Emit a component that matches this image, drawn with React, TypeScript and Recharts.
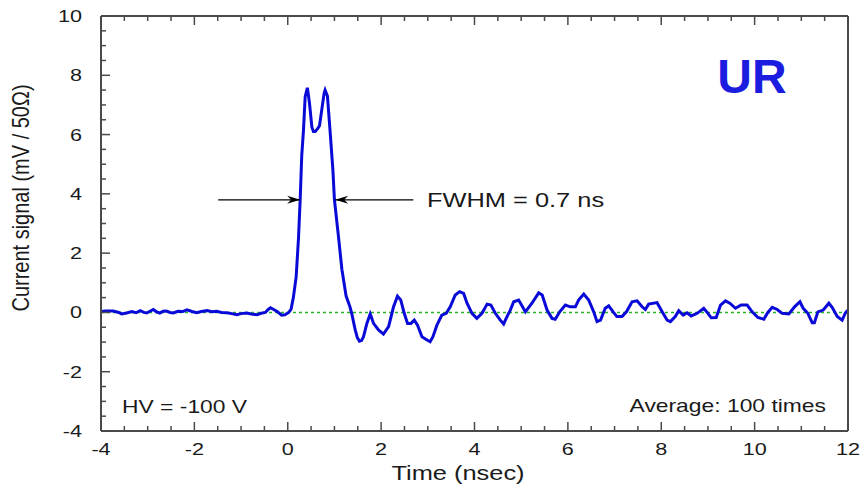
import React from "react";
import { LineChart, Line, XAxis, YAxis, ReferenceLine, Customized } from "recharts";

const timeNs = [
  -4.0, -3.9, -3.74, -3.62, -3.56, -3.45, -3.34, -3.25, -3.16, -3.08, -3.02, -2.95, -2.88, -2.81, -2.74, -2.67,
  -2.6, -2.52, -2.45, -2.35, -2.25, -2.16, -2.05, -1.95, -1.85, -1.73, -1.62, -1.52, -1.42, -1.31, -1.2, -1.09,
  -1.0, -0.88, -0.78, -0.66, -0.57, -0.48, -0.42, -0.37, -0.3, -0.22, -0.13, -0.06, 0.02, 0.07, 0.12, 0.18,
  0.23, 0.266, 0.3, 0.337, 0.373, 0.42, 0.445, 0.466, 0.517, 0.55, 0.587, 0.64, 0.68, 0.73, 0.78, 0.8,
  0.85, 0.91, 0.967, 1.0, 1.087, 1.16, 1.25, 1.33, 1.37, 1.445, 1.49, 1.537, 1.58, 1.623, 1.695, 1.766,
  1.8, 1.837, 1.944, 2.05, 2.16, 2.266, 2.35, 2.42, 2.495, 2.566, 2.64, 2.71, 2.78, 2.875, 2.966, 3.05,
  3.11, 3.195, 3.3, 3.395, 3.48, 3.588, 3.68, 3.767, 3.84, 3.946, 4.05, 4.16, 4.27, 4.35, 4.446, 4.553,
  4.624, 4.696, 4.767, 4.84, 4.946, 5.09, 5.23, 5.375, 5.45, 5.554, 5.66, 5.73, 5.825, 5.946, 6.05, 6.16,
  6.23, 6.34, 6.446, 6.553, 6.624, 6.7, 6.8, 6.875, 6.97, 7.05, 7.16, 7.254, 7.375, 7.483, 7.59, 7.66,
  7.73, 7.91, 8.02, 8.125, 8.196, 8.3, 8.375, 8.47, 8.555, 8.64, 8.77, 8.91, 9.0, 9.07, 9.177, 9.27,
  9.376, 9.468, 9.59, 9.71, 9.84, 9.948, 10.07, 10.197, 10.28, 10.377, 10.484, 10.59, 10.733, 10.855, 10.97, 11.04,
  11.14, 11.234, 11.28, 11.355, 11.47, 11.59, 11.66, 11.77, 11.875, 11.946, 12.0,
];
const signalMv = [
  0.03, 0.05, 0.05, 0.0, -0.05, -0.02, 0.03, -0.01, 0.06, 0.0, -0.02, 0.04, 0.1, 0.02, -0.02, 0.04,
  0.05, 0.0, -0.02, 0.04, 0.03, 0.09, 0.03, -0.01, 0.03, 0.06, 0.02, 0.04, 0.0, -0.01, -0.04, -0.08,
  -0.04, -0.02, -0.05, -0.08, -0.03, 0.0, 0.1, 0.16, 0.1, 0.02, -0.09, -0.08, 0.0, 0.1, 0.5, 1.2,
  2.5, 3.8, 5.3, 6.15, 7.28, 7.58, 7.3, 7.05, 6.25, 6.1, 6.1, 6.2, 6.3, 6.85, 7.4, 7.5,
  7.3, 6.05, 4.8, 3.8, 2.55, 1.45, 0.55, 0.2, -0.03, -0.59, -0.85, -0.97, -0.95, -0.82, -0.37, -0.05,
  -0.2, -0.37, -0.59, -0.73, -0.48, 0.19, 0.55, 0.42, -0.03, -0.37, -0.37, -0.26, -0.43, -0.82, -0.91, -0.99,
  -0.82, -0.43, -0.09, -0.03, 0.19, 0.59, 0.7, 0.64, 0.31, -0.03, -0.2, -0.03, 0.28, 0.25, -0.03, -0.26,
  -0.39, -0.14, 0.08, 0.36, 0.42, 0.02, 0.31, 0.66, 0.59, 0.08, -0.2, -0.23, 0.02, 0.25, 0.19, 0.19,
  0.42, 0.62, 0.42, 0.02, -0.31, -0.26, 0.14, 0.22, 0.02, -0.14, -0.14, 0.02, 0.36, 0.39, 0.19, 0.1,
  0.28, 0.33, 0.02, -0.26, -0.31, -0.14, 0.06, -0.09, -0.01, -0.12, -0.03, 0.14, -0.03, -0.18, -0.17, 0.25,
  0.39, 0.31, 0.14, 0.25, 0.25, 0.02, -0.17, -0.23, -0.01, 0.17, 0.1, -0.03, -0.05, 0.19, 0.36, 0.14,
  -0.03, -0.35, -0.35, 0.02, 0.08, 0.31, 0.17, -0.14, -0.26, -0.01, 0.08,
];

const xTickLabels = [-4, -2, 0, 2, 4, 6, 8, 10, 12];
const yTickLabels = [-4, -2, 0, 2, 4, 6, 8, 10];

// FWHM arrows (time, signal)
const fwhmLevel = 3.8;
const leftArrow = [-1.49, 0.266];
const rightArrow = [2.69, 1.016];

const data = timeNs.map((t, i) => ({ t, v: signalMv[i] }));

// minor ticks every 0.5
const xTicks = Array.from({ length: 33 }, (_, i) => -4 + i * 0.5);
const yTicks = Array.from({ length: 29 }, (_, i) => -4 + i * 0.5);

const FRAME = "#4a4a4a";
const TEXT = "#1a1a1a";
const FONT = "'Liberation Sans', Arial, sans-serif";
const STRETCH = 1.27; // the original picture is stretched sideways

const makeTick = (side: "bottom" | "top" | "left" | "right", labels: number[]) => (props: any) => {
  const { x, y, payload } = props;
  const v = payload.value;
  const major = labels.includes(v);
  const len = major ? 9 : 5;
  let line;
  if (side === "bottom") line = <line x1={x} x2={x} y1={y} y2={y - len} />;
  else if (side === "top") line = <line x1={x} x2={x} y1={y} y2={y + len} />;
  else if (side === "left") line = <line x1={x} x2={x + len} y1={y} y2={y} />;
  else line = <line x1={x} x2={x - len} y1={y} y2={y} />;
  return (
    <g>
      <g stroke={FRAME} strokeWidth={1.5}>{line}</g>
      {major && side === "bottom" && (
        <text transform={`translate(${x},${y + 24}) scale(${STRETCH},1)`} textAnchor="middle"
          fontSize={17} fontFamily={FONT} fill={TEXT}>{v}</text>
      )}
      {major && side === "left" && (
        <text transform={`translate(${x - 19},${y + 6}) scale(${STRETCH},1)`} textAnchor="end"
          fontSize={17} fontFamily={FONT} fill={TEXT}>{v}</text>
      )}
    </g>
  );
};

const arrowShape = (props: any) => {
  const { x1, y1, x2, y2 } = props;
  const d = x2 > x1 ? 1 : -1;
  return (
    <g>
      <line x1={x1} y1={y1} x2={x2} y2={y2} stroke="#000" strokeWidth={1.2} />
      <path d={`M${x2},${y2} L${x2 - d * 13},${y2 - 4} L${x2 - d * 9},${y2} L${x2 - d * 13},${y2 + 4} Z`} fill="#000" />
    </g>
  );
};

const Annotations = () => (
  <g fontFamily={FONT} fill={TEXT}>
    <text x={752} y={93} textAnchor="middle" fontSize={48} fontWeight="bold" fill="#1c1ce0">UR</text>
    <text transform={`translate(427,207) scale(${STRETCH},1)`} fontSize={20}>FWHM = 0.7 ns</text>
    <text transform={`translate(122,413) scale(${STRETCH},1)`} fontSize={18}>HV = -100 V</text>
    <text transform={`translate(826,412) scale(${STRETCH},1)`} fontSize={18} textAnchor="end">Average: 100 times</text>
    <text transform={`translate(458,480) scale(${STRETCH},1)`} fontSize={20} textAnchor="middle">Time (nsec)</text>
    <text transform={`translate(29,198) scale(1.2,1) rotate(-90)`} fontSize={20} textAnchor="middle">
      Current signal (mV / 50Ω)
    </text>
  </g>
);

export default function App() {
  return (
    <div style={{ position: "absolute", left: 0, top: 0, background: "#fff" }}>
      <LineChart width={861} height={484} data={data} margin={{ top: 6, right: 3, bottom: 13, left: 41 }}>
        <XAxis xAxisId="b" dataKey="t" type="number" domain={[-4, 12]} ticks={xTicks} interval={0}
          height={40} tickSize={0} tickMargin={0} tick={makeTick("bottom", xTickLabels)}
          axisLine={{ stroke: FRAME, strokeWidth: 2 }} />
        <XAxis xAxisId="top" orientation="top" dataKey="t" type="number" domain={[-4, 12]} ticks={xTicks} interval={0}
          height={10} tickSize={0} tickMargin={0} tick={makeTick("top", xTickLabels)}
          axisLine={{ stroke: FRAME, strokeWidth: 2 }} />
        <YAxis yAxisId="l" type="number" domain={[-4, 10]} ticks={yTicks} interval={0}
          width={60} tickSize={0} tickMargin={0} tick={makeTick("left", yTickLabels)}
          axisLine={{ stroke: FRAME, strokeWidth: 2 }} />
        <YAxis yAxisId="r" orientation="right" type="number" domain={[-4, 10]} ticks={yTicks} interval={0}
          width={10} tickSize={0} tickMargin={0} tick={makeTick("right", yTickLabels)}
          axisLine={{ stroke: FRAME, strokeWidth: 2 }} />
        <ReferenceLine xAxisId="b" yAxisId="l" y={0} stroke="#27b327" strokeWidth={1.5} strokeDasharray="3 3" />
        <Line xAxisId="b" yAxisId="l" dataKey="v" type="linear" stroke="#0a0ad8" strokeWidth={3}
          dot={false} activeDot={false} isAnimationActive={false} />
        <ReferenceLine xAxisId="b" yAxisId="l"
          segment={[{ x: leftArrow[0], y: fwhmLevel }, { x: leftArrow[1], y: fwhmLevel }]} shape={arrowShape} />
        <ReferenceLine xAxisId="b" yAxisId="l"
          segment={[{ x: rightArrow[0], y: fwhmLevel }, { x: rightArrow[1], y: fwhmLevel }]} shape={arrowShape} />
        <Customized component={<Annotations />} />
      </LineChart>
    </div>
  );
}
